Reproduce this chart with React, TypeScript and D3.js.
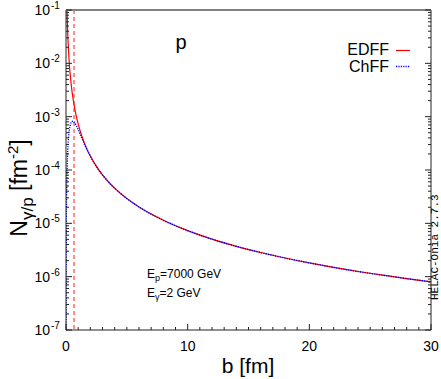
import React from "react";
import * as d3 from "d3";

const edB = [0.08, 0.1, 0.12, 0.15, 0.2, 0.25, 0.3, 0.4, 0.5, 0.6, 0.7, 0.8, 1.0, 1.25, 1.5, 1.75, 2, 2.5, 3, 3.5, 4, 5, 6, 7, 8, 9, 10, 12, 14, 16, 18, 20, 22, 24, 26, 28, 30];
const edV = [1.14e-1, 7.3e-2, 5.07e-2, 3.24e-2, 1.83e-2, 1.17e-2, 8.1e-3, 4.56e-3, 2.92e-3, 2.03e-3, 1.49e-3, 1.14e-3, 7.3e-4, 4.67e-4, 3.24e-4, 2.38e-4, 1.83e-4, 1.17e-4, 8.1e-5, 5.96e-5, 4.56e-5, 2.92e-5, 2.03e-5, 1.49e-5, 1.14e-5, 9.0e-6, 7.3e-6, 5.05e-6, 3.71e-6, 2.84e-6, 2.24e-6, 1.81e-6, 1.49e-6, 1.25e-6, 1.07e-6, 9.2e-7, 8.0e-7];

const chB = [0.002, 0.006, 0.0117, 0.0234, 0.0468, 0.0703, 0.0937, 0.117, 0.1405, 0.187, 0.234, 0.281, 0.351, 0.468, 0.585, 0.703, 0.937, 1.171, 1.405, 1.874, 2.342, 3, 3.5, 4, 5, 6, 7, 8, 9, 10, 12, 14, 16, 18, 20, 22, 24, 26, 28, 30];
const chV = [6e-8, 5.5e-7, 2.06e-6, 8.2e-6, 3.19e-5, 6.77e-5, 1.145e-4, 1.69e-4, 2.27e-4, 3.5e-4, 4.68e-4, 5.74e-4, 6.98e-4, 8.07e-4, 8.2e-4, 7.74e-4, 6.16e-4, 4.64e-4, 3.48e-4, 2.06e-4, 1.33e-4, 8.05e-5, 5.94e-5, 4.55e-5, 2.92e-5, 2.03e-5, 1.49e-5, 1.14e-5, 9.0e-6, 7.3e-6, 5.05e-6, 3.71e-6, 2.84e-6, 2.24e-6, 1.81e-6, 1.49e-6, 1.25e-6, 1.07e-6, 9.2e-7, 8.0e-7];

const radiusB = 0.66;
const xTicks = [0, 10, 20, 30];
const yExps = [-1, -2, -3, -4, -5, -6, -7];

const W = 441, H = 379;
const L = 66, R = 431, T = 10, B = 330;
const FONT = "'Liberation Sans', Arial, Helvetica, sans-serif";

export default function App() {
  const x = d3.scaleLinear().domain([0, 30]).range([L, R]);
  const y = d3.scaleLog().domain([1e-7, 1e-1]).range([B, T]);
  const line = d3.line<[number, number]>()
    .x(d => x(d[0]))
    .y(d => y(d[1]))
    .curve(d3.curveMonotoneX);
  const edPath = line(edB.map((b, i) => [b, edV[i]] as [number, number])) || "";
  const chPath = line(chB.map((b, i) => [b, chV[i]] as [number, number])) || "";

  const minorY: number[] = [];
  for (let e = -7; e < -1; e++) {
    for (let m = 2; m <= 9; m++) minorY.push(m * Math.pow(10, e));
  }
  const minorX: number[] = [];
  for (let v = 1; v < 30; v++) if (v % 10 !== 0) minorX.push(v);

  const axisColor = "#222";
  return (
    <svg width={W} height={H} style={{ position: "absolute", left: 0, top: 0, background: "#fff" }} fontFamily={FONT}>
      <defs>
        <clipPath id="plotclip">
          <rect x={L} y={T} width={R - L} height={B - T} />
        </clipPath>
      </defs>
      <g clipPath="url(#plotclip)">
        <line x1={x(radiusB)} x2={x(radiusB)} y1={T} y2={B} stroke="#ff2020" strokeWidth={1} strokeDasharray="4,3" />
        <path d={edPath} fill="none" stroke="#ff0000" strokeWidth={1.2} />
        <path d={chPath} fill="none" stroke="#0000ff" strokeWidth={1.4} strokeDasharray="1.2,1.2" />
      </g>
      <line x1={L} x2={L} y1={T} y2={B} stroke={axisColor} strokeWidth={1} />
      <line x1={R} x2={R} y1={T} y2={B} stroke={axisColor} strokeWidth={1} />
      <line x1={L} x2={R} y1={B} y2={B} stroke={axisColor} strokeWidth={1} />
      <line x1={L} x2={R} y1={T} y2={T} stroke="#808080" strokeWidth={2} />
      {yExps.map(e => (
        <g key={"ym" + e}>
          <line x1={L} x2={L + 6} y1={y(Math.pow(10, e))} y2={y(Math.pow(10, e))} stroke={axisColor} />
          <line x1={R} x2={R - 6} y1={y(Math.pow(10, e))} y2={y(Math.pow(10, e))} stroke={axisColor} />
          <text x={50} y={y(Math.pow(10, e)) + 5} fontSize={14} textAnchor="end" fill="#000">10</text>
          <text x={51} y={y(Math.pow(10, e)) - 1} fontSize={10} textAnchor="start" fill="#000">{"-" + Math.abs(e)}</text>
        </g>
      ))}
      {minorY.map((v, i) => (
        <g key={"yn" + i}>
          <line x1={L} x2={L + 3} y1={y(v)} y2={y(v)} stroke={axisColor} />
          <line x1={R} x2={R - 3} y1={y(v)} y2={y(v)} stroke={axisColor} />
        </g>
      ))}
      {xTicks.map(t => (
        <g key={"xm" + t}>
          <line x1={x(t)} x2={x(t)} y1={B} y2={B - 6} stroke={axisColor} />
          <text x={x(t)} y={351} fontSize={14} textAnchor="middle" fill="#000">{t}</text>
        </g>
      ))}
      {minorX.map(t => (
        <line key={"xn" + t} x1={x(t)} x2={x(t)} y1={B} y2={B - 3} stroke={axisColor} />
      ))}
      <text x={248} y={373} fontSize={21} textAnchor="middle" fill="#000">b [fm]</text>
      <text transform="translate(27,188) rotate(-90)" fontSize={23} textAnchor="middle" fill="#000">
        N<tspan fontSize={17} dy={6}>γ/p</tspan><tspan dy={-6}> [fm</tspan><tspan fontSize={15} dy={-9}>-2</tspan><tspan dy={9}>]</tspan>
      </text>
      <text x={181} y={49} fontSize={20} textAnchor="middle" fill="#000">p</text>
      <text x={389} y={55} fontSize={16} textAnchor="end" fill="#000">EDFF</text>
      <line x1={396} x2={410} y1={50.5} y2={50.5} stroke="#ff0000" strokeWidth={1.2} />
      <text x={389} y={72} fontSize={16} textAnchor="end" fill="#000">ChFF</text>
      <line x1={396} x2={410} y1={66.5} y2={66.5} stroke="#0000ff" strokeWidth={1.4} strokeDasharray="1.2,1.2" />
      <text x={147} y={278} fontSize={12} fill="#000">
        E<tspan fontSize={9} dy={3}>p</tspan><tspan dy={-3}>=7000 GeV</tspan>
      </text>
      <text x={147} y={297} fontSize={12} fill="#000">
        E<tspan fontSize={9} dy={3}>γ</tspan><tspan dy={-3}>=2 GeV</tspan>
      </text>
      <text transform="translate(438,300) rotate(-90)" fontSize={11} fontFamily="'Liberation Mono', 'DejaVu Sans Mono', monospace" fill="#000">HELAC-Onia 2.7.3</text>
    </svg>
  );
}
